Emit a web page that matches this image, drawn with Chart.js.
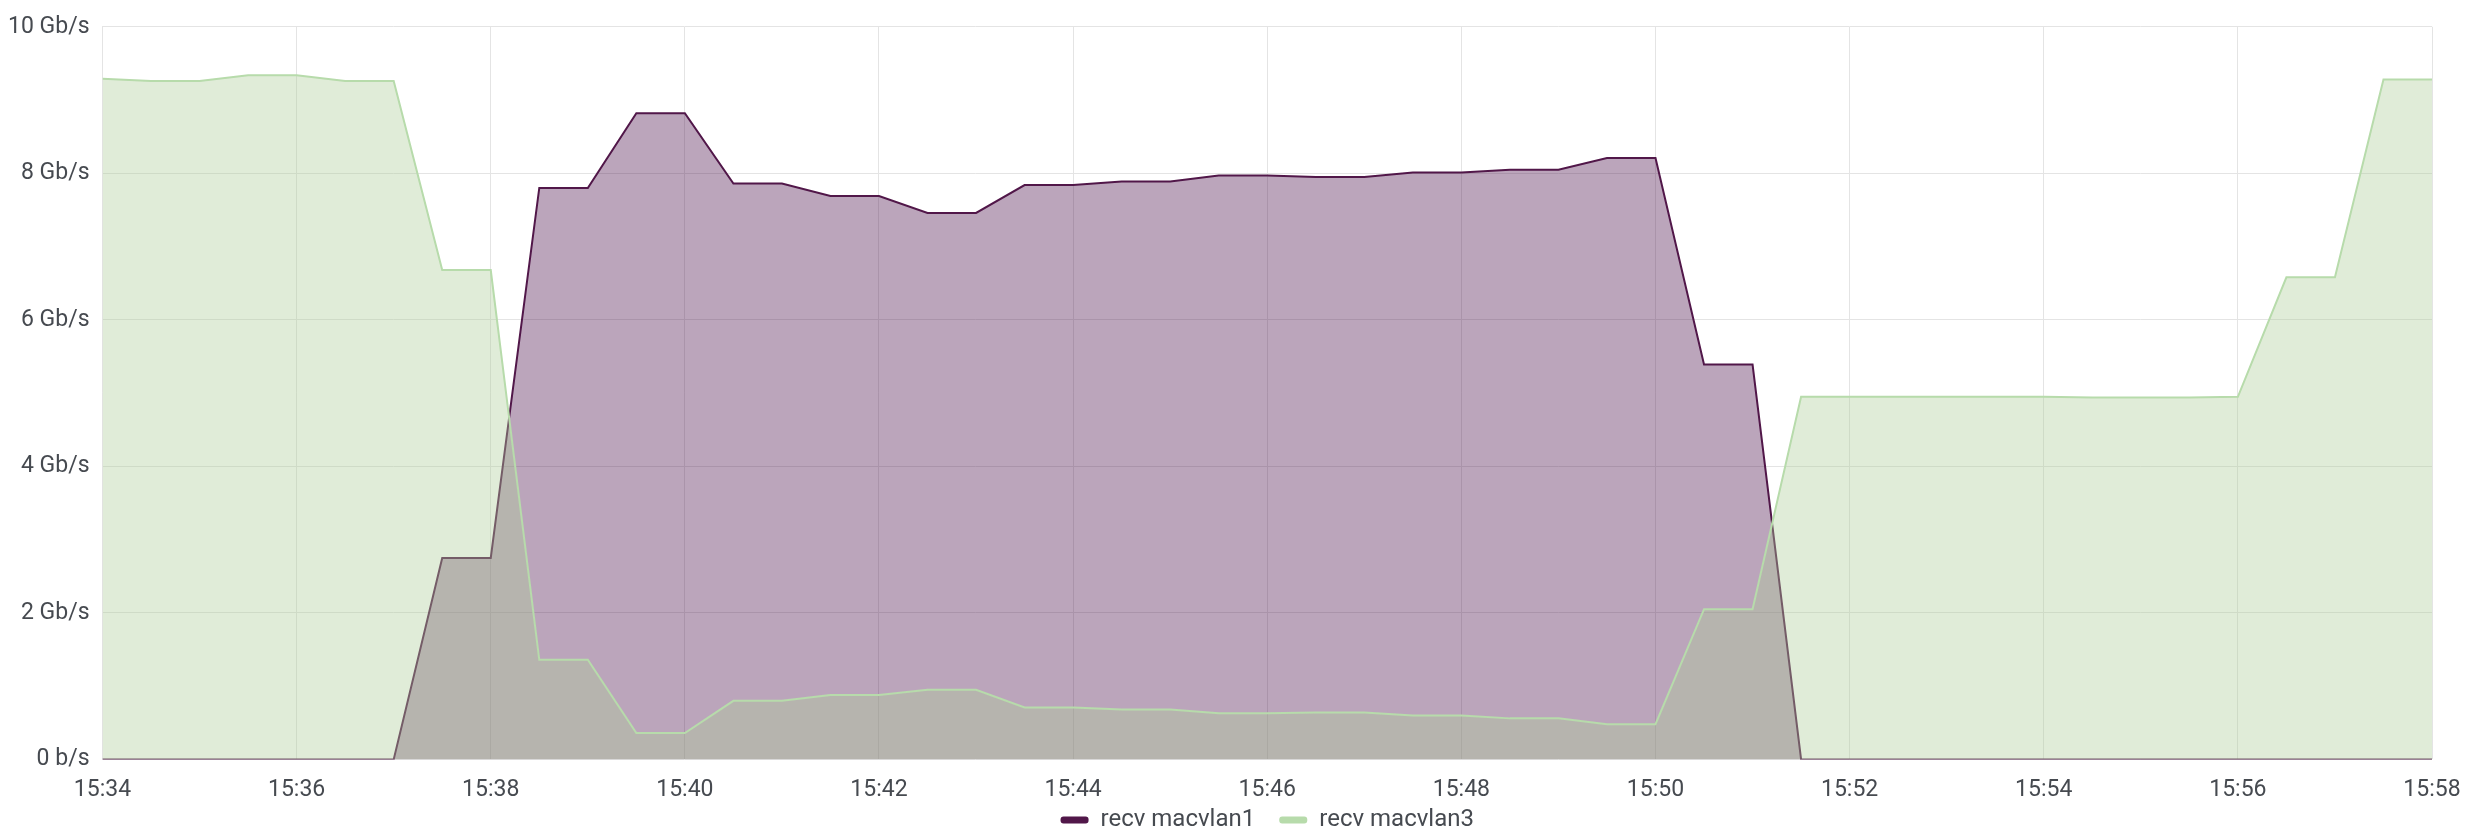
<!DOCTYPE html>
<html>
<head>
<meta charset="utf-8">
<script src="https://cdn.jsdelivr.net/npm/chart.js@4"></script>
<style>
  html, body { margin: 0; padding: 0; background: #fff; }
  #wrap { width: 2471px; height: 832px; }
</style>
</head>
<body>
<div id="wrap"><canvas id="grafico"></canvas></div>
<script>
// sample times, every 30 s
var times = [
    '15:34:00', '15:34:30', '15:35:00', '15:35:30', '15:36:00', '15:36:30', '15:37:00', '15:37:30',
    '15:38:00', '15:38:30', '15:39:00', '15:39:30', '15:40:00', '15:40:30', '15:41:00', '15:41:30',
    '15:42:00', '15:42:30', '15:43:00', '15:43:30', '15:44:00', '15:44:30', '15:45:00', '15:45:30',
    '15:46:00', '15:46:30', '15:47:00', '15:47:30', '15:48:00', '15:48:30', '15:49:00', '15:49:30',
    '15:50:00', '15:50:30', '15:51:00', '15:51:30', '15:52:00', '15:52:30', '15:53:00', '15:53:30',
    '15:54:00', '15:54:30', '15:55:00', '15:55:30', '15:56:00', '15:56:30', '15:57:00', '15:57:30',
    '15:58:00'
];

// Gb/s
var macvlan1 = [
    0, 0, 0, 0, 0, 0, 0, 2.75,
    2.75, 7.80, 7.80, 8.82, 8.82, 7.86, 7.86, 7.69,
    7.69, 7.46, 7.46, 7.84, 7.84, 7.89, 7.89, 7.97,
    7.97, 7.95, 7.95, 8.01, 8.01, 8.05, 8.05, 8.21,
    8.21, 5.39, 5.39, 0, 0, 0, 0, 0,
    0, 0, 0, 0, 0, 0, 0, 0,
    0
];

var macvlan3 = [
    9.29, 9.26, 9.26, 9.34, 9.34, 9.26, 9.26, 6.68,
    6.68, 1.36, 1.36, 0.36, 0.36, 0.80, 0.80, 0.88,
    0.88, 0.95, 0.95, 0.71, 0.71, 0.68, 0.68, 0.63,
    0.63, 0.64, 0.64, 0.60, 0.60, 0.56, 0.56, 0.48,
    0.48, 2.05, 2.05, 4.95, 4.95, 4.95, 4.95, 4.95,
    4.95, 4.94, 4.94, 4.94, 4.95, 6.58, 6.58, 9.28,
    9.28
];

var yTicks = [0, 2, 4, 6, 8, 10];

function toMin(t) {
    var p = t.split(':');
    return (+p[0]) * 60 + (+p[1]) + (+p[2]) / 60;
}
function fmtMin(v) {
    var h = Math.floor(v / 60), m = Math.round(v % 60);
    return h + ':' + (m < 10 ? '0' : '') + m;
}
function pts(arr) {
    return arr.map(function (v, i) { return { x: toMin(times[i]), y: v }; });
}

var txt = '#464a50';
var grid = '#e4e4e4';
var font = { family: 'Roboto', size: 23 };

// legend sits tight under the time labels, like grafana
var tuckLegend = {
    id: 'tuckLegend',
    afterLayout: function (chart) {
        chart.legend.top = chart.height - 48;
    }
};

function draw() {
    var ctx = document.getElementById('grafico').getContext('2d');
    var grafico = new Chart(ctx, {
        type: 'line',
        data: {
            datasets: [{
                label: 'recv macvlan1',
                data: pts(macvlan1),
                borderColor: '#511749',
                backgroundColor: 'rgba(76, 18, 76, 0.38)',
                borderWidth: 2,
                fill: 'origin',
                order: 1
            }, {
                label: 'recv macvlan3',
                data: pts(macvlan3),
                borderColor: '#b7dbab',
                backgroundColor: 'rgba(173, 205, 152, 0.38)',
                borderWidth: 2,
                fill: 'origin',
                order: 0
            }]
        },
        plugins: [tuckLegend],
        options: {
            responsive: true,
            maintainAspectRatio: false,
            animation: false,
            layout: { padding: { left: -5, right: 0, top: 1, bottom: -20 } },
            elements: { point: { radius: 0 }, line: { tension: 0 } },
            plugins: {
                tooltip: { enabled: false },
                legend: {
                    position: 'bottom',
                    fullSize: false,
                    maxHeight: 31,
                    labels: {
                        font: { family: 'Roboto', size: 24 },
                        color: txt,
                        boxWidth: 28,
                        boxHeight: 7,
                        padding: 24,
                        useBorderRadius: true,
                        borderRadius: 3,
                        sort: function (a, b) { return a.datasetIndex - b.datasetIndex; },
                        generateLabels: function (chart) {
                            return Chart.defaults.plugins.legend.labels.generateLabels(chart).map(function (l) {
                                var ds = chart.data.datasets[l.datasetIndex];
                                l.fillStyle = ds.borderColor;
                                l.strokeStyle = ds.borderColor;
                                l.lineWidth = 0;
                                return l;
                            });
                        }
                    }
                }
            },
            scales: {
                x: {
                    type: 'linear',
                    min: toMin(times[0]),
                    max: toMin(times[times.length - 1]),
                    grid: { color: grid, drawTicks: false },
                    border: { display: false },
                    afterFit: function (scale) { scale.paddingRight = 39; },
                    ticks: {
                        stepSize: 2,
                        padding: 17,
                        maxRotation: 0,
                        font: font,
                        color: txt,
                        callback: function (v) { return fmtMin(v); }
                    }
                },
                y: {
                    min: yTicks[0],
                    max: yTicks[yTicks.length - 1],
                    afterBuildTicks: function (axis) {
                        axis.ticks = yTicks.map(function (v) { return { value: v }; });
                    },
                    grid: { color: grid, drawTicks: false },
                    border: { display: false },
                    ticks: {
                        padding: 13,
                        font: font,
                        color: txt,
                        callback: function (v) { return v === 0 ? '0 b/s' : v + ' Gb/s'; }
                    }
                }
            }
        }
    });
}

if (document.fonts && document.fonts.load) {
    document.fonts.load('23px Roboto').then(draw, draw);
} else {
    draw();
}
</script>
</body>
</html>
